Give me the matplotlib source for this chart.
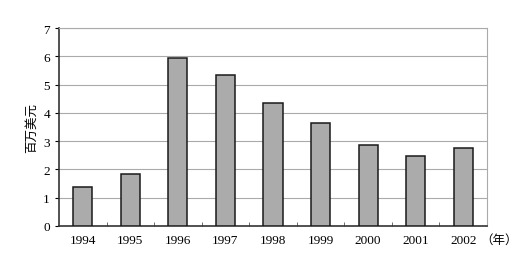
import numpy as np
import matplotlib.pyplot as plt

years = ["1994", "1995", "1996", "1997", "1998", "1999", "2000", "2001", "2002"]
values = [1.38, 1.84, 5.94, 5.34, 4.35, 3.64, 2.86, 2.47, 2.76]

plt.rcParams["font.family"] = ["Liberation Serif", "Noto Sans CJK SC"]

fig = plt.figure(figsize=(5.22, 2.55), dpi=100)
ax = fig.add_axes([0.113, 0.110, 0.820, 0.776])

x = np.arange(len(years))
ax.bar(x, values, width=0.4, color="#ababab", edgecolor="#1a1a1a",
       linewidth=1.1, zorder=3)

ax.set_xlim(-0.5, len(years) - 0.5)
ax.set_ylim(0, 7)
ax.set_yticks(range(8))
ax.set_xticks(x)
ax.set_xticklabels(years)
ax.set_xticks(np.arange(0.5, len(years) - 1, 1), minor=True)
ax.tick_params(axis="x", which="major", length=0, labelsize=9.5, pad=6)
ax.tick_params(axis="x", which="minor", length=3, direction="in", color="#555")
ax.tick_params(axis="y", length=3, labelsize=9.5, direction="out")

ax.grid(axis="y", color="#aaaaaa", linewidth=0.8, zorder=0)
for side in ["top", "right"]:
    ax.spines[side].set_color("#aaaaaa")
    ax.spines[side].set_linestyle((0, (1, 1)))
    ax.spines[side].set_linewidth(0.8)
for side in ["left", "bottom"]:
    ax.spines[side].set_color("#333333")
    ax.spines[side].set_linewidth(1.2)

ax.set_ylabel("百万美元", family=["Noto Sans CJK SC"], fontsize=9, labelpad=4)
ax.text(0.985, -0.035, "（年）", transform=ax.transAxes, ha="left", va="top",
        family=["Noto Sans CJK SC"], fontsize=9)

fig.savefig("out.png", dpi=100)
